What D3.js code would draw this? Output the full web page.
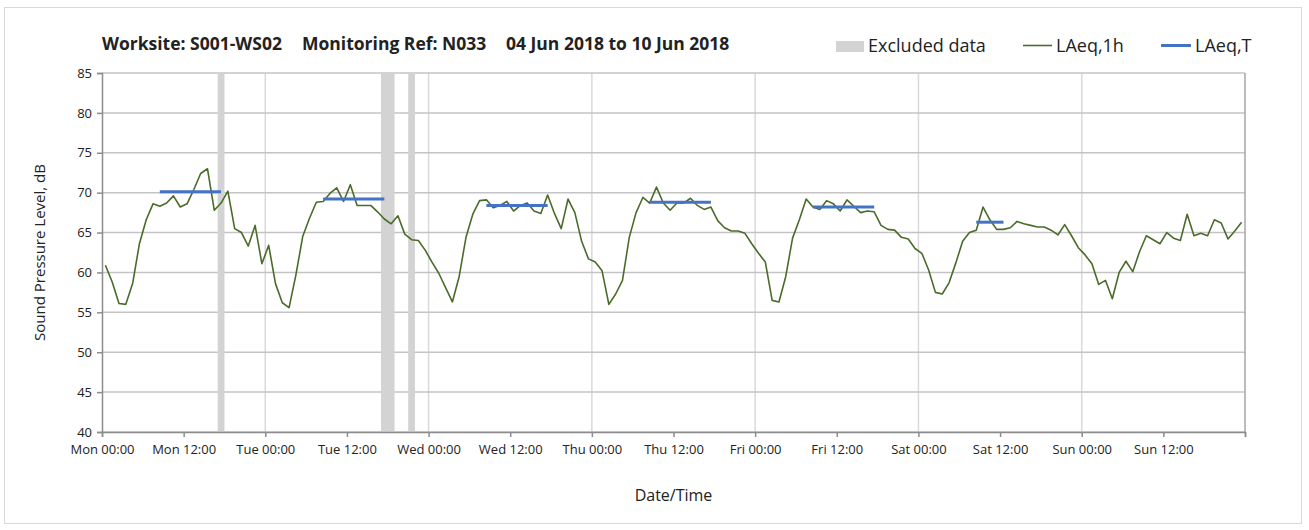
<!DOCTYPE html>
<html>
<head>
<meta charset="utf-8">
<script src="https://cdn.jsdelivr.net/npm/d3@7"></script>
<style>
  body { margin: 0; background: #fff; }
  text { font-family: "Open Sans", "DejaVu Sans", sans-serif; fill: #222; }
</style>
</head>
<body>
<div id="chart"></div>
<script>
// hourly LAeq,1h values, Mon 00:00 -> Sun 23:00 (plotted at mid-hour)
var laeq1h = [
  60.9, 58.8, 56.1, 56.0, 58.6, 63.6, 66.6, 68.6, 68.3, 68.7, 69.6, 68.2,
  68.6, 70.4, 72.4, 73.0, 67.8, 68.7, 70.2, 65.5, 65.0, 63.3, 65.9, 61.1,
  63.4, 58.6, 56.2, 55.6, 59.7, 64.5, 66.8, 68.8, 68.9, 69.9, 70.6, 68.9,
  71.0, 68.4, 68.4, 68.4, 67.6, 66.7, 66.1, 67.1, 64.8, 64.1, 64.0, 62.8,
  61.3, 59.9, 58.1, 56.3, 59.5, 64.4, 67.3, 69.0, 69.1, 68.1, 68.4, 68.9,
  67.7, 68.4, 68.7, 67.7, 67.4, 69.7, 67.4, 65.5, 69.2, 67.5, 63.9, 61.7,
  61.3, 60.2, 56.0, 57.3, 59.0, 64.4, 67.5, 69.4, 68.7, 70.7, 68.7, 67.8,
  68.7, 68.7, 69.3, 68.4, 67.9, 68.2, 66.5, 65.6, 65.2, 65.2, 64.9, 63.6,
  62.4, 61.3, 56.5, 56.3, 59.5, 64.3, 66.6, 69.2, 68.2, 67.9, 69.0, 68.6,
  67.7, 69.1, 68.3, 67.5, 67.7, 67.6, 65.9, 65.4, 65.3, 64.4, 64.2, 63.0,
  62.4, 60.3, 57.5, 57.3, 58.7, 61.2, 63.9, 65.0, 65.3, 68.2, 66.6, 65.4,
  65.4, 65.6, 66.4, 66.1, 65.9, 65.7, 65.7, 65.3, 64.7, 66.0, 64.6, 63.1,
  62.2, 61.1, 58.5, 59.0, 56.7, 60.0, 61.4, 60.1, 62.6, 64.6, 64.1, 63.6,
  65.0, 64.3, 64.0, 67.3, 64.6, 64.9, 64.6, 66.6, 66.2, 64.2, 65.2, 66.3
];

// excluded periods, hours from Mon 00:00
var excludedStart = [17, 41, 45];
var excludedEnd   = [18, 43, 46];

// LAeq,T daytime periods (first and last hour index) and level
var periodStart = [8, 32, 56, 80, 104, 128];
var periodEnd   = [17, 41, 65, 89, 113, 132];
var periodLevel = [70.1, 69.2, 68.4, 68.8, 68.2, 66.3];

var dayNames = ["Mon", "Tue", "Wed", "Thu", "Fri", "Sat", "Sun"];
var yTicks = [40, 45, 50, 55, 60, 65, 70, 75, 80, 85];
var titleParts = ["Worksite: S001-WS02", "Monitoring Ref: N033", "04 Jun 2018 to 10 Jun 2018"];

var svgWidth = 1309;
var svgHeight = 530;
var margin = { top: 73, right: 64, bottom: 98, left: 102 };
var width = svgWidth - margin.left - margin.right;
var height = svgHeight - margin.top - margin.bottom;

var svg = d3.select("#chart").append("svg")
  .attr("width", svgWidth)
  .attr("height", svgHeight);

// outer frame
svg.append("rect")
  .attr("x", 4.5).attr("y", 7.5)
  .attr("width", 1297).attr("height", 516)
  .attr("fill", "none").attr("stroke", "#d9d9d9");

var chartGroup = svg.append("g")
  .attr("transform", `translate(${margin.left}, ${margin.top})`);

var x = d3.scaleLinear().domain([0, 168]).range([0, width]);
var y = d3.scaleLinear().domain([40, 85]).range([height, 0]);

// vertical day gridlines
chartGroup.selectAll(".vgrid")
  .data(d3.range(24, 168, 24))
  .enter().append("line")
  .attr("x1", d => x(d)).attr("x2", d => x(d))
  .attr("y1", 0).attr("y2", height)
  .attr("stroke", "#d9d9d9").attr("stroke-width", 1.5);

// horizontal gridlines
chartGroup.selectAll(".hgrid")
  .data(yTicks)
  .enter().append("line")
  .attr("x1", 0).attr("x2", width)
  .attr("y1", d => y(d)).attr("y2", d => y(d))
  .attr("stroke", "#c4c4c4").attr("stroke-width", 1.5);

// right edge
chartGroup.append("line")
  .attr("x1", width).attr("x2", width)
  .attr("y1", 0).attr("y2", height)
  .attr("stroke", "#a6a6a6").attr("stroke-width", 1.5);

// excluded bands
chartGroup.selectAll(".excl")
  .data(excludedStart)
  .enter().append("rect")
  .attr("x", d => x(d))
  .attr("y", 0)
  .attr("width", (d, i) => x(excludedEnd[i]) - x(d))
  .attr("height", height)
  .attr("fill", "#d3d3d3");

// axes
var bottomAxis = d3.axisBottom(x)
  .tickValues(d3.range(0, 169, 12))
  .tickSize(5)
  .tickFormat(d => d >= 168 ? "" : dayNames[Math.floor(d / 24)] + (d % 24 === 0 ? " 00:00" : " 12:00"));

var leftAxis = d3.axisLeft(y)
  .tickValues(yTicks)
  .tickSize(5)
  .tickFormat(d3.format("d"));

var xg = chartGroup.append("g")
  .attr("transform", `translate(0, ${height})`)
  .call(bottomAxis);
xg.select(".domain").attr("stroke", "#8c8c8c").attr("stroke-width", 1.5);
xg.selectAll(".tick line").attr("stroke", "#8c8c8c").attr("stroke-width", 1.5);
xg.selectAll(".tick text")
  .attr("font-size", 13)
  .attr("dy", "1.1em")
  .style("font-family", "'Open Sans', sans-serif")
  .attr("fill", "#222");

var yg = chartGroup.append("g").call(leftAxis);
yg.select(".domain").attr("stroke", "#8c8c8c").attr("stroke-width", 1.5);
yg.selectAll(".tick line").attr("stroke", "#8c8c8c").attr("stroke-width", 1.5);
yg.selectAll(".tick text")
  .attr("font-size", 13)
  .attr("x", -10)
  .style("font-family", "'Open Sans', sans-serif")
  .attr("fill", "#222");

// LAeq,1h line
var line = d3.line()
  .x((d, i) => x(i + 0.5))
  .y(d => y(d));

chartGroup.append("path")
  .datum(laeq1h)
  .attr("d", line)
  .attr("fill", "none")
  .attr("stroke", "#4a6b2a")
  .attr("stroke-width", 1.6)
  .attr("stroke-linejoin", "round");

// LAeq,T lines
chartGroup.selectAll(".period")
  .data(periodLevel)
  .enter().append("line")
  .attr("x1", (d, i) => x(periodStart[i] + 0.5))
  .attr("x2", (d, i) => x(periodEnd[i] + 0.5))
  .attr("y1", d => y(d)).attr("y2", d => y(d))
  .attr("stroke", "#4472c4")
  .attr("stroke-width", 3);

// axis labels
svg.append("text")
  .attr("transform", `translate(45, ${margin.top + height / 2}) rotate(-90)`)
  .attr("text-anchor", "middle")
  .attr("font-size", 15)
  .text("Sound Pressure Level, dB");

svg.append("text")
  .attr("x", margin.left + width / 2)
  .attr("y", 501)
  .attr("text-anchor", "middle")
  .attr("font-size", 16)
  .text("Date/Time");

// title
var titleX = [102, 302, 506];
svg.selectAll(".title")
  .data(titleParts)
  .enter().append("text")
  .attr("x", (d, i) => titleX[i])
  .attr("y", 50)
  .attr("font-size", 17.5)
  .attr("font-weight", "bold")
  .text(d => d);

// legend
var legend = svg.append("g");
legend.append("rect")
  .attr("x", 836).attr("y", 41)
  .attr("width", 28).attr("height", 11)
  .attr("fill", "#d3d3d3");
legend.append("text")
  .attr("x", 868).attr("y", 52)
  .attr("font-size", 18)
  .text("Excluded data");
legend.append("line")
  .attr("x1", 1023).attr("x2", 1052)
  .attr("y1", 45.5).attr("y2", 45.5)
  .attr("stroke", "#4a6b2a").attr("stroke-width", 1.6);
legend.append("text")
  .attr("x", 1056).attr("y", 52)
  .attr("font-size", 18)
  .text("LAeq,1h");
legend.append("line")
  .attr("x1", 1161).attr("x2", 1191)
  .attr("y1", 45.5).attr("y2", 45.5)
  .attr("stroke", "#4472c4").attr("stroke-width", 3);
legend.append("text")
  .attr("x", 1195).attr("y", 52)
  .attr("font-size", 18)
  .text("LAeq,T");
</script>
</body>
</html>
